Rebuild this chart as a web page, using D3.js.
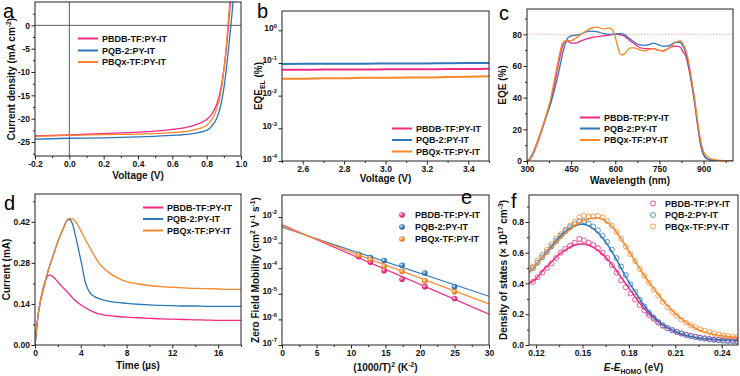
<!DOCTYPE html>
<html>
<head>
<meta charset="utf-8">
<script src="https://cdn.jsdelivr.net/npm/d3@7"></script>
<style>
body { margin: 0; background: #fff; }
svg { font-family: "Liberation Sans", Arial, sans-serif; }
.axis text { font: bold 8.5px "Liberation Sans", Arial, sans-serif; fill: #111; }
.axis line { stroke: #222; }
.title { font: bold 10px "Liberation Sans", Arial, sans-serif; fill: #111; }
.leg { font: bold 9px "Liberation Sans", Arial, sans-serif; fill: #111; }
.letter { font: 20px "Liberation Sans", Arial, sans-serif; fill: #000; }
</style>
</head>
<body>
<div id="fig"></div>
<script>
// the three blends
var names = ["PBDB-TF:PY-IT", "PQB-2:PY-IT", "PBQx-TF:PY-IT"];
var colors = ["#ef2a82", "#2f77b8", "#f8882a"];

// (a) J-V curves
var jvVolt = [-0.2, 0, 0.2, 0.4, 0.6, 0.7, 0.75, 0.8, 0.83, 0.86, 0.88, 0.9, 0.91, 0.92, 0.93, 0.94, 0.95, 0.96];
var jvPink = [-23.7, -23.5, -23.2, -22.9, -22.3, -21.7, -21.1, -20.2, -19.0, -16.8, -14.0, -9.5, -6.5, -3.0, 1.2, 5.5, 10, 15];
var jvBlue = [-24.4, -24.2, -24.1, -23.9, -23.6, -23.3, -23.0, -22.5, -21.6, -19.8, -17.5, -13.5, -10.8, -7.5, -4.0, -0.5, 3.5, 8];
var jvOrange = [-23.8, -23.6, -23.4, -23.3, -23.0, -22.6, -22.2, -21.4, -20.2, -17.8, -14.8, -9.8, -6.2, -1.8, 3.0, 8, 13, 18];

// (b) EQE_EL vs voltage
var elVolt = [2.5, 2.6, 2.7, 2.8, 2.9, 3.0, 3.1, 3.2, 3.3, 3.4, 3.5];
var elPink = [0.062, 0.062, 0.063, 0.063, 0.063, 0.064, 0.064, 0.064, 0.065, 0.065, 0.066];
var elBlue = [0.093, 0.094, 0.094, 0.095, 0.095, 0.096, 0.096, 0.097, 0.098, 0.099, 0.1];
var elOrange = [0.033, 0.033, 0.034, 0.034, 0.035, 0.035, 0.036, 0.036, 0.037, 0.038, 0.039];

// (c) EQE spectra
var eqeWl = [300, 310, 320, 335, 350, 365, 380, 395, 410, 420, 430, 440, 450, 465, 480, 500, 520, 540, 560, 580, 590, 600, 610, 620, 630, 640, 650, 665, 680, 700, 715, 730, 745, 760, 775, 790, 805, 820, 830, 840, 850, 860, 870, 880, 890, 900, 915, 930, 950, 975, 1000];
var eqePink = [0, 1, 4, 11, 19, 28, 37, 50, 64, 72, 76, 75.5, 74.5, 74.5, 75.5, 77, 78, 78.5, 79, 79.5, 80, 80, 80, 79.5, 79, 77.5, 76, 74, 72, 71, 71, 71, 70, 69.5, 70.5, 72, 72.5, 72, 69, 66, 58, 48, 36, 22, 10, 4, 1, 0.3, 0, 0, 0];
var eqeBlue = [0, 1.5, 5, 12, 20, 28, 36, 46, 58, 67, 74, 78, 79, 79.5, 80, 81.5, 82, 81.5, 80.5, 80, 80, 80, 80.5, 80.5, 80, 78.5, 77, 75, 73.5, 73, 73.5, 74.5, 73.5, 72.5, 72.5, 73.5, 75, 75, 72.5, 68, 60, 49, 37, 23, 11, 4, 1, 0.3, 0, 0, 0];
var eqeOrange = [0, 1, 4, 12, 20, 29, 39, 53, 67, 74, 76, 76, 76, 77.5, 79.5, 82, 84, 84.5, 83.5, 84, 83, 78, 71, 67, 67.5, 69.5, 71.5, 71.5, 70.5, 69.5, 70.5, 71, 70, 69.5, 70.5, 72.5, 75, 76, 74, 70, 62, 51, 39, 25, 13, 6, 2.5, 1.2, 0.5, 0.2, 0];

// (d) transient photocurrent
var tpTime = [0, 0.15, 0.3, 0.5, 0.7, 1.0, 1.2, 1.5, 1.8, 2.1, 2.5, 2.8, 3.0, 3.3, 3.6, 4.0, 4.4, 4.8, 5.2, 5.6, 6.0, 6.5, 7, 8, 9, 10, 11, 12, 13, 14, 15, 16, 17, 18];
var tpPink = [0, 0.06, 0.11, 0.155, 0.192, 0.228, 0.238, 0.235, 0.224, 0.21, 0.194, 0.182, 0.173, 0.16, 0.149, 0.137, 0.127, 0.118, 0.111, 0.106, 0.103, 0.1, 0.098, 0.095, 0.093, 0.091, 0.089, 0.088, 0.087, 0.086, 0.085, 0.084, 0.084, 0.084];
var tpBlue = [0, 0.06, 0.11, 0.155, 0.185, 0.232, 0.26, 0.295, 0.33, 0.363, 0.4, 0.425, 0.428, 0.41, 0.362, 0.29, 0.213, 0.178, 0.165, 0.158, 0.153, 0.149, 0.146, 0.142, 0.139, 0.137, 0.135, 0.134, 0.133, 0.133, 0.132, 0.132, 0.132, 0.132];
var tpOrange = [0, 0.06, 0.11, 0.155, 0.185, 0.232, 0.26, 0.295, 0.33, 0.363, 0.4, 0.425, 0.432, 0.43, 0.418, 0.39, 0.36, 0.332, 0.303, 0.279, 0.262, 0.246, 0.233, 0.216, 0.208, 0.203, 0.199, 0.197, 0.195, 0.193, 0.192, 0.191, 0.19, 0.19];

// (e) zero field mobility
var mobX = [11.1, 12.8, 14.8, 17.4, 20.7, 25.0];
var mobPink = [2.8e-4, 1.7e-4, 8.0e-5, 3.7e-5, 1.9e-5, 6.5e-6];
var mobBlue = [3.5e-4, 2.6e-4, 2.0e-4, 1.3e-4, 6.5e-5, 1.9e-5];
var mobOrange = [3.2e-4, 2.2e-4, 1.2e-4, 7.5e-5, 3.2e-5, 1.2e-5];
var mobFitX = [0, 30];
var mobFitPink = [5.0e-3, 1.6e-6];
var mobFitBlue = [4.0e-3, 8.0e-6];
var mobFitOrange = [4.4e-3, 4.0e-6];

// (f) density of states
var dosE = [0.118, 0.121, 0.124, 0.127, 0.130, 0.133, 0.136, 0.139, 0.142, 0.145, 0.148, 0.151, 0.154, 0.157, 0.160, 0.163, 0.166, 0.169, 0.172, 0.175, 0.178, 0.181, 0.184, 0.187, 0.190, 0.193, 0.196, 0.199, 0.202, 0.205, 0.208, 0.211, 0.214, 0.217, 0.220, 0.223, 0.226, 0.229, 0.232, 0.235, 0.238, 0.241, 0.244, 0.247, 0.250];
var dosPink = [0.41, 0.44, 0.47, 0.50, 0.53, 0.565, 0.60, 0.625, 0.645, 0.665, 0.69, 0.68, 0.665, 0.65, 0.63, 0.60, 0.565, 0.52, 0.47, 0.42, 0.375, 0.335, 0.295, 0.26, 0.225, 0.195, 0.17, 0.145, 0.125, 0.11, 0.097, 0.086, 0.076, 0.067, 0.06, 0.054, 0.048, 0.044, 0.04, 0.037, 0.034, 0.032, 0.03, 0.029, 0.028];
var dosBlue = [0.50, 0.535, 0.57, 0.605, 0.64, 0.675, 0.71, 0.74, 0.765, 0.785, 0.805, 0.805, 0.79, 0.77, 0.745, 0.71, 0.67, 0.62, 0.565, 0.51, 0.455, 0.395, 0.345, 0.295, 0.25, 0.21, 0.178, 0.15, 0.128, 0.11, 0.096, 0.084, 0.074, 0.065, 0.058, 0.051, 0.046, 0.041, 0.037, 0.034, 0.031, 0.028, 0.026, 0.024, 0.022];
var dosOrange = [0.51, 0.55, 0.585, 0.62, 0.655, 0.69, 0.72, 0.75, 0.775, 0.80, 0.83, 0.84, 0.835, 0.835, 0.84, 0.83, 0.805, 0.775, 0.735, 0.69, 0.64, 0.59, 0.545, 0.495, 0.45, 0.405, 0.36, 0.32, 0.28, 0.245, 0.215, 0.19, 0.165, 0.145, 0.128, 0.115, 0.103, 0.093, 0.083, 0.075, 0.068, 0.062, 0.058, 0.055, 0.052];
var fitE = [0.1155, 0.12, 0.125, 0.13, 0.135, 0.14, 0.145, 0.15, 0.155, 0.16, 0.165, 0.17, 0.175, 0.18, 0.185, 0.19, 0.195, 0.2, 0.205, 0.21, 0.215, 0.22, 0.225, 0.23, 0.235, 0.24, 0.245, 0.2505];
var fitPink = [0.40, 0.43, 0.49, 0.54, 0.59, 0.625, 0.65, 0.657, 0.645, 0.615, 0.57, 0.51, 0.44, 0.37, 0.30, 0.235, 0.185, 0.142, 0.11, 0.086, 0.068, 0.055, 0.046, 0.04, 0.036, 0.033, 0.031, 0.03];
var fitBlue = [0.47, 0.52, 0.58, 0.64, 0.70, 0.745, 0.775, 0.785, 0.77, 0.73, 0.67, 0.59, 0.50, 0.41, 0.33, 0.255, 0.195, 0.148, 0.113, 0.088, 0.069, 0.055, 0.046, 0.04, 0.035, 0.032, 0.03, 0.029];
var fitOrange = [0.47, 0.52, 0.575, 0.63, 0.685, 0.735, 0.775, 0.805, 0.822, 0.825, 0.805, 0.76, 0.69, 0.61, 0.53, 0.45, 0.38, 0.315, 0.255, 0.205, 0.162, 0.128, 0.1, 0.082, 0.069, 0.06, 0.054, 0.05];

var svg = d3.select("#fig").append("svg")
    .attr("width", 740)
    .attr("height", 376);
var defs = svg.append("defs");

// plain hyphen instead of the unicode minus
function fmt(spec) {
    var f = d3.format(spec);
    return function(d) { return f(d).replace("\u2212", "-"); };
}

// text with superscripts, subscripts and italics
function rich(sel, parts, size) {
    var cur = 0;
    parts.forEach(function(p) {
        var kind = p[1] || "";
        var shift = kind == "sup" ? -size * 0.38 : (kind == "sub" ? size * 0.3 : 0);
        var t = sel.append("tspan").text(p[0]).attr("dy", shift - cur);
        cur = shift;
        if (kind == "sup" || kind == "sub") t.style("font-size", (size * 0.68) + "px");
        if (kind == "it") t.style("font-style", "italic");
    });
}

function makePanel(name, box, xDomain, yDomain, yLog) {
    var p = {box: box};
    p.x = d3.scaleLinear().domain(xDomain).range([box.x0, box.x1]);
    p.y = (yLog ? d3.scaleLog() : d3.scaleLinear()).domain(yDomain).range([box.y1, box.y0]);
    defs.append("clipPath").attr("id", "clip-" + name)
        .append("rect")
        .attr("x", box.x0).attr("y", box.y0)
        .attr("width", box.x1 - box.x0).attr("height", box.y1 - box.y0);
    p.g = svg.append("g");
    p.plot = p.g.append("g").attr("clip-path", "url(#clip-" + name + ")");
    return p;
}

function drawAxes(p, o) {
    var b = p.box, g = p.g;
    g.append("g").attr("class", "axis")
        .attr("transform", "translate(0," + b.y1 + ")")
        .call(d3.axisBottom(p.x).tickValues(o.xMinor).tickSize(2).tickFormat(""));
    g.append("g").attr("class", "axis")
        .attr("transform", "translate(0," + b.y1 + ")")
        .call(d3.axisBottom(p.x).tickValues(o.xMajor).tickSize(3.5).tickPadding(1).tickFormat(o.xFmt));
    if (o.yMinor) {
        g.append("g").attr("class", "axis")
            .attr("transform", "translate(" + b.x0 + ",0)")
            .call(d3.axisLeft(p.y).tickValues(o.yMinor).tickSize(2).tickFormat(""));
    }
    var ya = g.append("g").attr("class", "axis")
        .attr("transform", "translate(" + b.x0 + ",0)")
        .call(d3.axisLeft(p.y).tickValues(o.yMajor).tickSize(3.5).tickPadding(1.5)
            .tickFormat(o.yLog ? function() { return ""; } : o.yFmt));
    if (o.yLog) {
        ya.selectAll(".tick text").each(function(d) {
            var e = Math.round(Math.log10(d));
            rich(d3.select(this), [["10"], [String(e), "sup"]], 8.5);
        });
    }
    g.selectAll(".domain").remove();
    g.append("rect")
        .attr("x", b.x0).attr("y", b.y0)
        .attr("width", b.x1 - b.x0).attr("height", b.y1 - b.y0)
        .attr("fill", "none").attr("stroke", "#222").attr("stroke-width", 1);

    // axis titles
    var xt = g.append("text").attr("class", "title")
        .attr("x", (b.x0 + b.x1) / 2).attr("y", o.xTitleY)
        .attr("text-anchor", "middle");
    rich(xt, o.xTitle, 10);
    var yt = g.append("text").attr("class", "title")
        .attr("transform", "translate(" + o.yTitleX + "," + (b.y0 + b.y1) / 2 + ") rotate(-90)")
        .attr("text-anchor", "middle");
    rich(yt, o.yTitle, 10);
}

function drawLine(p, xs, ys, color, width) {
    var pts = xs.map(function(x, i) { return [x, ys[i]]; });
    var line = d3.line()
        .x(function(d) { return p.x(d[0]); })
        .y(function(d) { return p.y(d[1]); })
        .curve(d3.curveMonotoneX);
    p.plot.append("path")
        .datum(pts)
        .attr("d", line)
        .attr("fill", "none")
        .attr("stroke", color)
        .attr("stroke-width", width);
}

function lineLegend(p, x, ys) {
    names.forEach(function(n, i) {
        p.g.append("line")
            .attr("x1", x).attr("x2", x + 20)
            .attr("y1", ys[i]).attr("y2", ys[i])
            .attr("stroke", colors[i]).attr("stroke-width", 2);
        p.g.append("text").attr("class", "leg")
            .attr("x", x + 24).attr("y", ys[i] + 3.2)
            .text(n);
    });
}

function letter(t, x, y) {
    svg.append("text").attr("class", "letter").attr("x", x).attr("y", y).text(t);
}

// gradient balls for panel e
colors.forEach(function(c, i) {
    var gr = defs.append("radialGradient").attr("id", "ball" + i)
        .attr("cx", "0.5").attr("cy", "0.5").attr("r", "0.6")
        .attr("fx", "0.3").attr("fy", "0.3");
    gr.append("stop").attr("offset", "0").attr("stop-color", "#fff");
    gr.append("stop").attr("offset", "0.55").attr("stop-color", c);
    gr.append("stop").attr("offset", "1").attr("stop-color", d3.rgb(c).darker(0.6));
});

// ---------- (a) ----------
var pa = makePanel("a", {x0: 35, x1: 241, y0: 2, y1: 156}, [-0.2, 1.0], [-28, 5]);
pa.plot.append("line").attr("x1", pa.x(0)).attr("x2", pa.x(0))
    .attr("y1", 2).attr("y2", 156).attr("stroke", "#333").attr("stroke-width", 0.8);
pa.plot.append("line").attr("x1", 35).attr("x2", 241)
    .attr("y1", pa.y(0)).attr("y2", pa.y(0)).attr("stroke", "#333").attr("stroke-width", 0.8);
drawLine(pa, jvVolt, jvPink, colors[0], 1.3);
drawLine(pa, jvVolt, jvOrange, colors[2], 1.3);
drawLine(pa, jvVolt, jvBlue, colors[1], 1.3);
drawAxes(pa, {
    xMajor: [-0.2, 0, 0.2, 0.4, 0.6, 0.8, 1.0], xMinor: [-0.1, 0.1, 0.3, 0.5, 0.7, 0.9], xFmt: fmt(".1f"),
    yMajor: [-25, -20, -15, -10, -5, 0], yMinor: [-27.5, -22.5, -17.5, -12.5, -7.5, -2.5, 2.5], yFmt: fmt("d"),
    xTitle: [["Voltage (V)"]], xTitleY: 179,
    yTitle: [["Current density (mA cm"], ["-2", "sup"], [")"]], yTitleX: 15
});
lineLegend(pa, 78, [38.5, 50.5, 62]);
letter("a", 3, 18);

// ---------- (b) ----------
var pb = makePanel("b", {x0: 282, x1: 489, y0: 11, y1: 161}, [2.5, 3.5], [1e-4, Math.pow(10, 0.59)], true);
drawLine(pb, elVolt, elPink, colors[0], 2);
drawLine(pb, elVolt, elBlue, colors[1], 2);
drawLine(pb, elVolt, elOrange, colors[2], 2);
drawAxes(pb, {
    xMajor: [2.6, 2.8, 3.0, 3.2, 3.4], xMinor: [2.5, 2.7, 2.9, 3.1, 3.3, 3.5], xFmt: fmt(".1f"),
    yMajor: [1e-4, 1e-3, 1e-2, 1e-1, 1], yLog: true,
    xTitle: [["Voltage (V)"]], xTitleY: 182,
    yTitle: [["EQE"], ["EL", "sub"], [" (%)"]], yTitleX: 262
});
lineLegend(pb, 392, [128.5, 140, 151.5]);
letter("b", 257, 18);

// ---------- (c) ----------
var pc = makePanel("c", {x0: 527, x1: 733, y0: 9, y1: 161}, [300, 1000], [0, 96]);
pc.plot.append("line").attr("x1", 527).attr("x2", 733)
    .attr("y1", pc.y(80)).attr("y2", pc.y(80))
    .attr("stroke", "#f39a9a").attr("stroke-width", 0.8).attr("stroke-dasharray", "1.5,1.5");
drawLine(pc, eqeWl, eqePink, colors[0], 1.3);
drawLine(pc, eqeWl, eqeBlue, colors[1], 1.3);
drawLine(pc, eqeWl, eqeOrange, colors[2], 1.3);
drawAxes(pc, {
    xMajor: [300, 450, 600, 750, 900], xMinor: [375, 525, 675, 825, 975], xFmt: fmt("d"),
    yMajor: [0, 20, 40, 60, 80], yMinor: [10, 30, 50, 70, 90], yFmt: fmt("d"),
    xTitle: [["Wavelength (nm)"]], xTitleY: 184,
    yTitle: [["EQE (%)"]], yTitleX: 506
});
lineLegend(pc, 580, [117.5, 128.5, 140]);
letter("c", 499, 20);

// ---------- (d) ----------
var pd = makePanel("d", {x0: 35, x1: 241, y0: 194, y1: 345}, [0, 18], [0, 0.515]);
drawLine(pd, tpTime, tpPink, colors[0], 1.3);
drawLine(pd, tpTime, tpBlue, colors[1], 1.3);
drawLine(pd, tpTime, tpOrange, colors[2], 1.3);
drawAxes(pd, {
    xMajor: [0, 4, 8, 12, 16], xMinor: [2, 6, 10, 14, 18], xFmt: fmt("d"),
    yMajor: [0, 0.14, 0.28, 0.42], yMinor: [0.07, 0.21, 0.35, 0.49], yFmt: fmt(".2f"),
    xTitle: [["Time (\u00b5s)"]], xTitleY: 369,
    yTitle: [["Current (mA)"]], yTitleX: 10
});
lineLegend(pd, 143, [207.5, 219, 230.5]);
letter("d", 4, 210);

// ---------- (e) ----------
var pe = makePanel("e", {x0: 282, x1: 489, y0: 195, y1: 345}, [0, 30], [1e-7, Math.pow(10, -1.14)], true);
var mobSets = [[mobPink, mobFitPink], [mobBlue, mobFitBlue], [mobOrange, mobFitOrange]];
mobSets.forEach(function(s, i) {
    drawLine(pe, mobFitX, s[1], colors[i], 1.2);
});
mobSets.forEach(function(s, i) {
    pe.plot.selectAll(".m" + i)
        .data(s[0])
        .enter()
        .append("circle")
        .attr("cx", function(d, j) { return pe.x(mobX[j]); })
        .attr("cy", function(d) { return pe.y(d); })
        .attr("r", 2.8)
        .attr("fill", "url(#ball" + i + ")");
});
drawAxes(pe, {
    xMajor: [0, 5, 10, 15, 20, 25, 30], xMinor: [2.5, 7.5, 12.5, 17.5, 22.5, 27.5], xFmt: fmt("d"),
    yMajor: [1e-7, 1e-6, 1e-5, 1e-4, 1e-3, 1e-2], yLog: true,
    xTitle: [["(1000/T)"], ["2", "sup"], [" (K"], ["-2", "sup"], [")"]], xTitleY: 371,
    yTitle: [["Zero Field Mobility (cm"], ["2", "sup"], [" V"], ["-1", "sup"], [" s"], ["-1", "sup"], [")"]], yTitleX: 259
});
names.forEach(function(n, i) {
    var y = [215, 227, 239][i];
    pe.g.append("circle").attr("cx", 402).attr("cy", y).attr("r", 2.8).attr("fill", "url(#ball" + i + ")");
    pe.g.append("text").attr("class", "leg").attr("x", 415).attr("y", y + 3.2).text(n);
});
letter("e", 461, 204);

// ---------- (f) ----------
var pf = makePanel("f", {x0: 529, x1: 738, y0: 195, y1: 345}, [0.1155, 0.2505], [0, 0.975]);
var dosSets = [[dosPink, fitPink], [dosBlue, fitBlue], [dosOrange, fitOrange]];
dosSets.forEach(function(s, i) {
    pf.plot.selectAll(".c" + i)
        .data(s[0])
        .enter()
        .append("circle")
        .attr("cx", function(d, j) { return pf.x(dosE[j]); })
        .attr("cy", function(d) { return pf.y(d); })
        .attr("r", 2.5)
        .attr("fill", "none")
        .attr("stroke", colors[i])
        .attr("stroke-width", 0.8);
});
dosSets.forEach(function(s, i) {
    drawLine(pf, fitE, s[1], colors[i], 1.5);
});
drawAxes(pf, {
    xMajor: [0.12, 0.15, 0.18, 0.21, 0.24], xMinor: [0.135, 0.165, 0.195, 0.225], xFmt: fmt(".2f"),
    yMajor: [0, 0.2, 0.4, 0.6, 0.8], yMinor: [0.1, 0.3, 0.5, 0.7, 0.9], yFmt: fmt(".1f"),
    xTitle: [["E", "it"], ["-"], ["E", "it"], ["HOMO", "sub"], [" (eV)"]], xTitleY: 371,
    yTitle: [["Density of states (\u00d7 10"], ["17", "sup"], [" cm"], ["-3", "sup"], [")"]], yTitleX: 507
});
names.forEach(function(n, i) {
    var y = [203.5, 215, 226.5][i];
    pf.g.append("circle").attr("cx", 653).attr("cy", y).attr("r", 2.5)
        .attr("fill", "none").attr("stroke", colors[i]).attr("stroke-width", 0.8);
    pf.g.append("text").attr("class", "leg").attr("x", 665).attr("y", y + 3.2).text(n);
});
letter("f", 511, 208);
</script>
</body>
</html>
